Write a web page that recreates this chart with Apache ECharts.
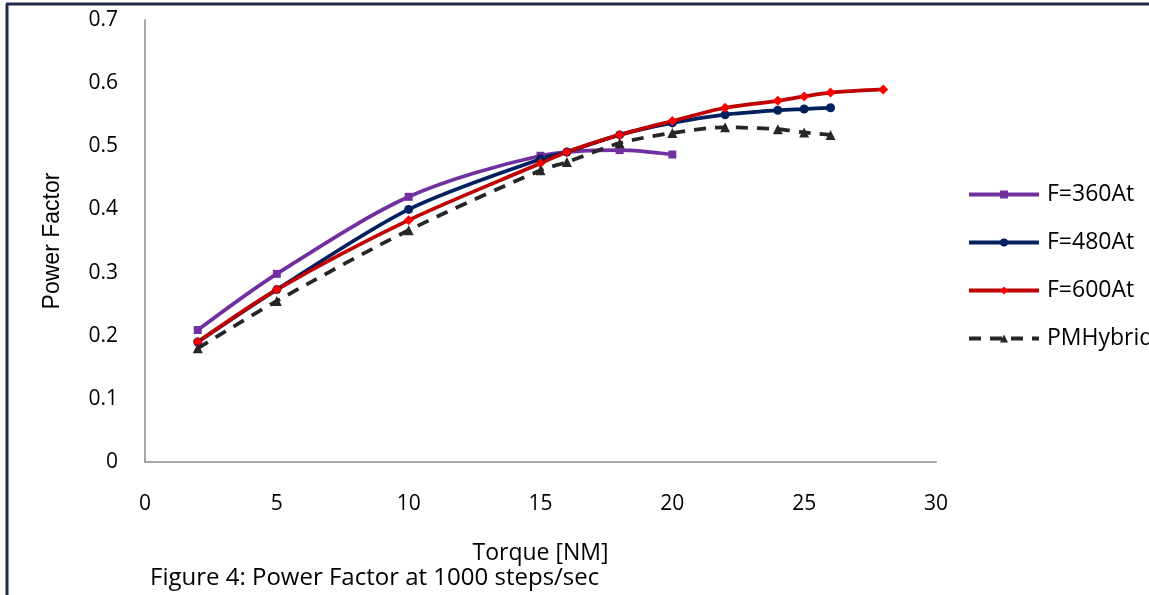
<!DOCTYPE html>
<html>
<head>
<meta charset="utf-8">
<script src="https://cdn.jsdelivr.net/npm/echarts@6/dist/echarts.min.js"></script>
<style>
html,body{margin:0;padding:0;background:#fff;}
#chart{width:1149px;height:595px;}
</style>
</head>
<body>
<div id="chart"></div>
<script>
const seriesNames = ['F=360At', 'F=480At', 'F=600At', 'PMHybrid'];
const f360 = [[2, 0.209], [5, 0.298], [10, 0.42], [15, 0.485], [18, 0.494], [20, 0.487]];
const f480 = [[2, 0.19], [5, 0.273], [10, 0.40], [15, 0.48], [16, 0.491], [18, 0.518], [20, 0.537], [22, 0.55], [24, 0.557], [25, 0.559], [26, 0.561]];
const f600 = [[2, 0.19], [5, 0.273], [10, 0.383], [15, 0.473], [16, 0.491], [18, 0.518], [20, 0.54], [22, 0.561], [24, 0.572], [25, 0.579], [26, 0.585], [28, 0.59]];
const pmHybrid = [[2, 0.18], [5, 0.255], [10, 0.367], [15, 0.462], [16, 0.475], [18, 0.505], [20, 0.521], [22, 0.53], [24, 0.527], [25, 0.522], [26, 0.518]];
const xTitle = 'Torque [NM]';
const yTitle = 'Power Factor';
const caption = 'Figure 4: Power Factor at 1000 steps/sec';

const font = 'Open Sans';
const chart = echarts.init(document.getElementById('chart'));
chart.setOption({
  animation: false,
  backgroundColor: '#fff',
  grid: {left: 145, top: 20, right: 213, bottom: 133, containLabel: false},
  xAxis: {
    type: 'value', min: 0, max: 30, interval: 5,
    name: xTitle, nameLocation: 'middle', nameGap: 80,
    nameTextStyle: {fontFamily: font, fontSize: 23, color: '#000'},
    axisLine: {show: true, lineStyle: {color: '#A6A6A6', width: 2}},
    axisTick: {show: false},
    splitLine: {show: false},
    axisLabel: {fontFamily: font, fontSize: 21, color: '#000', margin: 32}
  },
  yAxis: {
    type: 'value', min: 0, max: 0.7, interval: 0.1,
    name: yTitle, nameLocation: 'middle', nameGap: 81,
    nameTextStyle: {fontFamily: 'Liberation Sans', fontSize: 23, color: '#000'},
    axisLine: {show: true, lineStyle: {color: '#A6A6A6', width: 2}},
    axisTick: {show: false},
    splitLine: {show: false},
    axisLabel: {fontFamily: font, fontSize: 21, color: '#000', margin: 27, formatter: v => v === 0 ? '0' : v.toFixed(1)}
  },
  legend: {
    orient: 'vertical', left: 962, top: 178,
    itemWidth: 70, itemHeight: 10, itemGap: 25,
    lineStyle: {width: 4},
    textStyle: {fontFamily: font, fontSize: 23, color: '#000', padding: [0, 0, 0, 3]},
    data: seriesNames
  },
  title: {
    text: caption, left: 145, top: 561,
    textStyle: {fontFamily: font, fontSize: 24, fontWeight: 'normal', color: '#000'}
  },
  graphic: [
    {type: 'line', shape: {x1: 6, y1: 4, x2: 1149, y2: 4}, style: {stroke: '#1F2D45', lineWidth: 3}},
    {type: 'line', shape: {x1: 7, y1: 4, x2: 7, y2: 595}, style: {stroke: '#1F2D45', lineWidth: 3}}
  ],
  series: [
    {name: seriesNames[0], type: 'line', data: f360, smooth: 0.3,
     symbol: 'rect', symbolSize: 8,
     lineStyle: {color: '#7030A0', width: 3.75}, itemStyle: {color: '#7030A0'}},
    {name: seriesNames[1], type: 'line', data: f480, smooth: 0.3,
     symbol: 'circle', symbolSize: 9,
     lineStyle: {color: '#002060', width: 3.75}, itemStyle: {color: '#002060'}},
    {name: seriesNames[2], type: 'line', data: f600, smooth: 0.3,
     symbol: 'diamond', symbolSize: 10,
     lineStyle: {color: '#C00000', width: 3.75}, itemStyle: {color: '#FF0000'}},
    {name: seriesNames[3], type: 'line', data: pmHybrid, smooth: 0.3,
     symbol: 'triangle', symbolSize: 10,
     lineStyle: {color: '#262626', width: 3.75, type: [12, 9]}, itemStyle: {color: '#262626'}}
  ]
});
</script>
</body>
</html>
